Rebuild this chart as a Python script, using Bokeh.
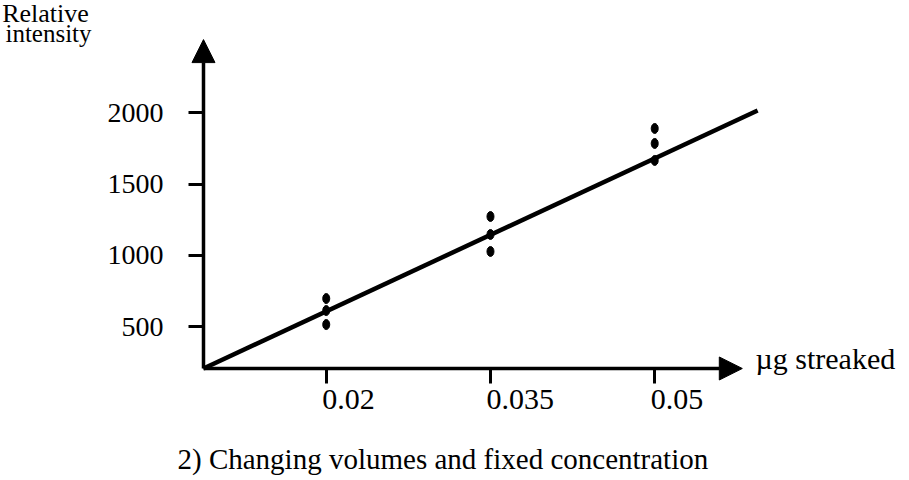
from bokeh.plotting import figure
from bokeh.models import Range1d, FixedTicker, Arrow, NormalHead, Label, ColumnDataSource
from bokeh.core.properties import value
from bokeh.embed import file_html
from bokeh.resources import INLINE

# ---- data ----
x_ticks = [0.02, 0.035, 0.05]
x_tick_labels = ["0.02", "0.035", "0.05"]
y_ticks = [500, 1000, 1500, 2000]

pt_x = [0.02, 0.02, 0.02, 0.035, 0.035, 0.035, 0.05, 0.05, 0.05]
pt_y = [698, 614, 516, 1273, 1147, 1028, 1890, 1785, 1666]

# fitted line, from the axes' corner
fit_x = [0.00879, 0.0594]
fit_y = [208, 2016]

# where the axis arrows end
x_axis_end = 0.0580
y_axis_end = 2513

x_label = "\u00b5g streaked"
y_label_lines = ["Relative", "intensity"]
caption = "2) Changing volumes and fixed concentration"

FONT = "Liberation Serif"

p = figure(width=909, height=480,
           x_range=Range1d(-0.00975, 0.07327), y_range=Range1d(-577, 2787),
           output_backend="svg", toolbar_location=None,
           min_border_left=0, min_border_right=0, min_border_top=0, min_border_bottom=0)
p.outline_line_color = None
p.xgrid.visible = False
p.ygrid.visible = False
p.background_fill_color = "white"
p.border_fill_color = "white"

for ax in (p.xaxis[0], p.yaxis[0]):
    ax.axis_line_color = None
    ax.minor_tick_line_color = None
    ax.major_tick_in = 0
    ax.major_tick_out = 15
    ax.major_tick_line_width = 3
    ax.major_tick_line_color = "black"
    ax.major_label_text_font = FONT
    ax.major_label_text_font_size = "28px"
    ax.major_label_text_color = "black"

xa = p.xaxis[0]
xa.fixed_location = fit_y[0]
xa.ticker = FixedTicker(ticks=x_ticks)
xa.major_label_text_color = None

ya = p.yaxis[0]
ya.fixed_location = fit_x[0]
ya.ticker = FixedTicker(ticks=y_ticks)
ya.major_label_standoff = 25

# x tick labels, left-aligned at their ticks as in the reference
p.text(x=x_ticks, y=[fit_y[0]] * len(x_ticks), text=x_tick_labels,
       text_font=value(FONT), text_font_size="30px", text_color="black",
       text_align="left", text_baseline="alphabetic", x_offset=-4, y_offset=31)

# fitted line
p.line(fit_x, fit_y, line_width=4.5, line_color="black")

# data points
src = ColumnDataSource(dict(x=pt_x, y=pt_y))
p.ellipse(x="x", y="y", width=7, height=10, width_units="screen", height_units="screen",
          source=src, fill_color="black", line_color="black")

# axes with arrows
p.add_layout(Arrow(end=NormalHead(size=23, fill_color="black", line_color="black"),
                   x_start=fit_x[0], y_start=fit_y[0], x_end=fit_x[0], y_end=y_axis_end,
                   line_width=3.5, line_color="black"))
p.add_layout(Arrow(end=NormalHead(size=23, fill_color="black", line_color="black"),
                   x_start=fit_x[0], y_start=fit_y[0], x_end=x_axis_end, y_end=fit_y[0],
                   line_width=3.5, line_color="black"))

# texts (screen units from the bottom-left corner)
p.add_layout(Label(x=755, y=122, x_units="screen", y_units="screen", text=x_label,
                   text_font=FONT, text_font_size="30px", text_color="black",
                   text_align="left", text_baseline="alphabetic"))
p.add_layout(Label(x=45, y=467, x_units="screen", y_units="screen", text=y_label_lines[0],
                   text_font=FONT, text_font_size="26px", text_color="black",
                   text_align="center", text_baseline="alphabetic"))
p.add_layout(Label(x=48, y=447, x_units="screen", y_units="screen", text=y_label_lines[1],
                   text_font=FONT, text_font_size="25px", text_color="black",
                   text_align="center", text_baseline="alphabetic"))
p.add_layout(Label(x=177, y=22, x_units="screen", y_units="screen", text=caption,
                   text_font=FONT, text_font_size="29px", text_color="black",
                   text_align="left", text_baseline="alphabetic"))

open("out.html", "w").write(file_html(p, INLINE))
